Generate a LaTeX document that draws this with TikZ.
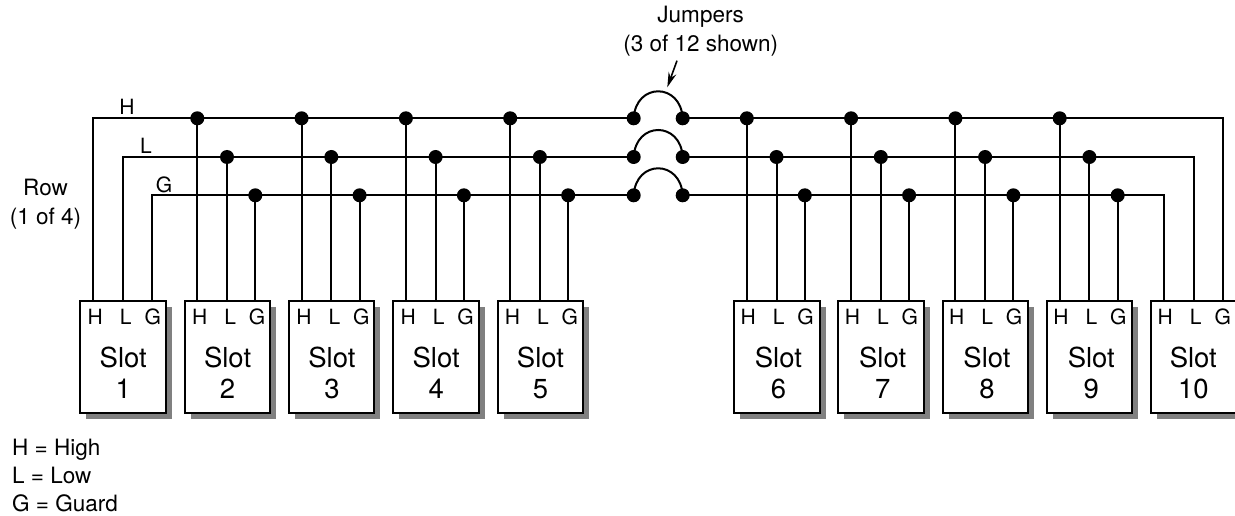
\documentclass[tikz,border=0pt]{standalone}
\usepackage{fontspec}
\setmainfont{TeX Gyre Heros}
\usetikzlibrary{arrows.meta,shadows}
\tikzset{
  wire/.style={line width=2pt,line join=miter},
  slotbox/.style={draw,line width=2pt,fill=white,minimum width=85.4pt,minimum height=112.3pt,inner sep=0pt,anchor=north west,
    drop shadow={shadow xshift=6pt,shadow yshift=-6pt,fill=shadowgray,opacity=1}},
  dotnode/.style={circle,fill=black,draw=none,minimum size=14pt,inner sep=0pt},
  termtext/.style={inner sep=0pt,font=\fontsize{21}{22}\selectfont},
  slottext/.style={inner sep=0pt,align=center,font=\fontsize{27.5}{31}\selectfont},
  labeltext/.style={inner sep=0pt,align=center,font=\fontsize{22.5}{29}\selectfont},
  legendtext/.style={inner sep=0pt,anchor=base west,font=\fontsize{22.5}{24}\selectfont},
}
\definecolor{shadowgray}{gray}{0.5}
\begin{document}
\begin{tikzpicture}[x=1pt,y=-1pt]
\useasboundingbox (0,0) rectangle (1235,516);
% slots
\foreach \n/\xx/\cx/\hx/\lx/\gx in {
  1/79.3/44/16/46.5/73.4, 2/183.6/44/16/46.5/73.4, 3/287.9/44/16/46.5/73.4, 4/392.2/44/16/46.5/73.4, 5/496.5/44/16/46.5/73.4,
  6/733.1/45.3/15/45.5/72.4, 7/837.4/45.3/15/45.5/72.4, 8/941.7/45.3/15/45.5/72.4, 9/1046/45.3/15/45.5/72.4, 10/1150.3/43/15/45.5/72.4}{
  \node[slotbox] (s\n) at (\xx,299.7) {};
  \node[termtext] (th\n) at (\xx+\hx,316.7) {H};
  \node[termtext] (tl\n) at (\xx+\lx,316.7) {L};
  \node[termtext] (tg\n) at (\xx+\gx,316.7) {G};
  \node[slottext] (st\n) at (\xx+\cx,372.5) {Slot\\\n};
}
% bus corners
\coordinate (cHa) at (93,118.3);
\coordinate (cLa) at (122.7,157);
\coordinate (cGa) at (152,195.3);
\coordinate (cHb) at (1223,118.3);
\coordinate (cLb) at (1193.5,157);
\coordinate (cGb) at (1164.3,195.3);
% jumpers
\foreach \r in {H,L,G}{
  \node[dotnode] (j\r a) at (633.7,0 |- c\r a) {};
  \node[dotnode] (j\r b) at (682.7,0 |- c\r a) {};
  \draw[wire] (c\r a |- s1.north) -- (c\r a) -- (j\r a.center);
  \draw[wire] (c\r b |- s10.north) -- (c\r b) -- (j\r b.center);
  \draw[wire] (j\r a.center) .. controls +(2,-36) and +(-2,-36) .. (j\r b.center);
}
% taps
\foreach \n/\xx in {2/183.6,3/287.9,4/392.2,5/496.5,6/733.1,7/837.4,8/941.7,9/1046}{
  \node[dotnode] (dH\n) at (\xx+13.7,118.3) {};
  \node[dotnode] (dL\n) at (\xx+43.4,157) {};
  \node[dotnode] (dG\n) at (\xx+71.7,195.3) {};
  \draw[wire] (dH\n.center) -- (dH\n.center |- s\n.north);
  \draw[wire] (dL\n.center) -- (dL\n.center |- s\n.north);
  \draw[wire] (dG\n.center) -- (dG\n.center |- s\n.north);
}
% labels
\node[termtext] (lbH) at (127,107) {H};
\node[termtext] (lbL) at (146,146) {L};
\node[termtext] (lbG) at (164,185) {G};
\node[labeltext] (row) at (45.5,204) {Row\\(1 of 4)};
\node[labeltext] (jump) at (700.7,31.5) {Jumpers\\(3 of 12 shown)};
\coordinate (arrowtail) at (677,60.7);
\coordinate (arrowtip) at (667.3,87.3);
\draw[line width=1.6pt,-{Stealth[length=15pt,width=8pt]}] (arrowtail) -- (arrowtip);
\node[legendtext] (lgH) at (12,455.7) {H = High};
\node[legendtext] (lgL) at (12,483.3) {L = Low};
\node[legendtext] (lgG) at (12,511.7) {G = Guard};
\end{tikzpicture}
\end{document}
